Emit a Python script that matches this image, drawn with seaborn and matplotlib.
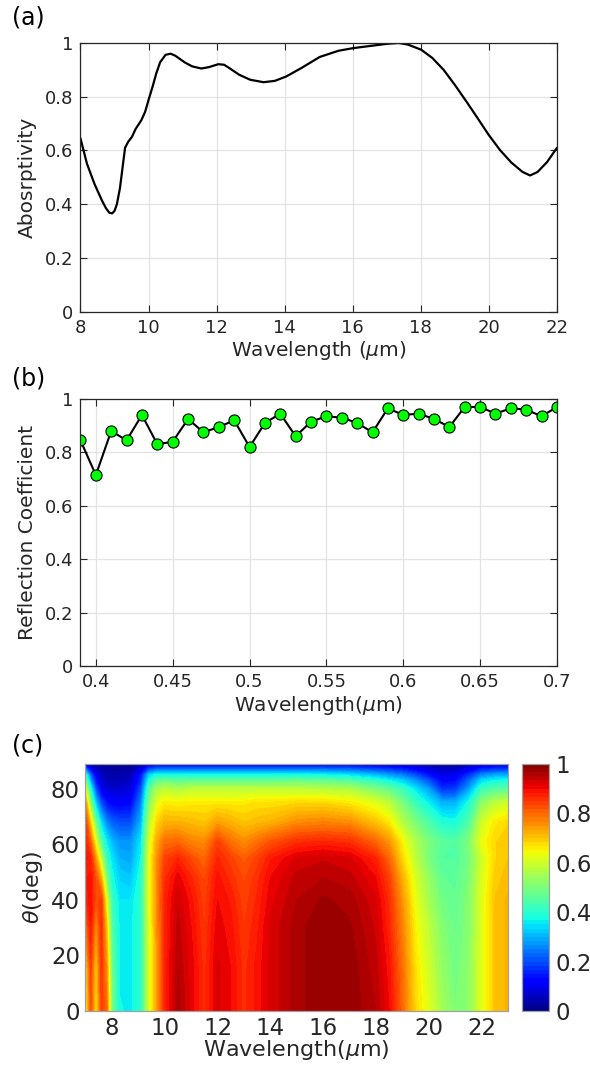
import numpy as np
import seaborn as sns
import matplotlib
matplotlib.use("Agg")
import matplotlib.pyplot as plt
from matplotlib.ticker import FuncFormatter

# ---------------- dados ----------------
# (a) absortividade
wl_abs = [8.0, 8.19, 8.41, 8.63, 8.75, 8.85, 8.93, 9.0, 9.07, 9.16, 9.24, 9.31, 9.40,
          9.51, 9.62, 9.79, 9.90, 10.0, 10.12, 10.23, 10.34, 10.5, 10.65, 10.78, 11.06,
          11.28, 11.55, 11.77, 12.05, 12.22, 12.38, 12.66, 12.99, 13.38, 13.71, 14.04,
          14.48, 15.03, 15.58, 16.02, 16.58, 17.02, 17.35, 17.62, 18.01, 18.34, 18.67,
          19.0, 19.34, 19.67, 20.0, 20.33, 20.66, 20.99, 21.21, 21.43, 21.71, 22.0]
absorb = [0.645, 0.551, 0.476, 0.414, 0.385, 0.368, 0.366, 0.375, 0.40, 0.46, 0.54,
          0.61, 0.632, 0.65, 0.68, 0.713, 0.744, 0.788, 0.838, 0.888, 0.928, 0.956,
          0.96, 0.953, 0.928, 0.913, 0.905, 0.91, 0.921, 0.919, 0.906, 0.882, 0.863,
          0.854, 0.859, 0.875, 0.906, 0.948, 0.971, 0.981, 0.99, 0.997, 1.0, 0.994,
          0.975, 0.944, 0.9, 0.844, 0.782, 0.72, 0.657, 0.601, 0.555, 0.52, 0.507,
          0.52, 0.557, 0.61]

# (b) coeficiente de reflexao
wl_refl = [0.39, 0.40, 0.41, 0.42, 0.43, 0.44, 0.45, 0.46, 0.47, 0.48, 0.49, 0.50,
           0.51, 0.52, 0.53, 0.54, 0.55, 0.56, 0.57, 0.58, 0.59, 0.60, 0.61, 0.62,
           0.63, 0.64, 0.65, 0.66, 0.67, 0.68, 0.69, 0.70]
refl = [0.845, 0.715, 0.88, 0.845, 0.94, 0.83, 0.84, 0.925, 0.875, 0.895, 0.92, 0.82,
        0.91, 0.945, 0.86, 0.915, 0.935, 0.93, 0.91, 0.875, 0.965, 0.94, 0.945, 0.925,
        0.895, 0.97, 0.97, 0.945, 0.965, 0.96, 0.935, 0.97]

# (c) mapa angulo x comprimento de onda
wl_map = [7.0, 7.2, 7.4, 7.6, 7.8, 8.0, 8.3, 8.7, 9.1, 9.4, 9.7, 10.0, 10.5, 11.0, 11.5,
          12.0, 12.5, 13.0, 13.5, 14.0, 15.0, 16.0, 17.0, 18.0, 18.5, 19.0, 19.5, 20.0,
          20.5, 21.0, 21.5, 22.0, 22.5, 23.0]
theta_map = [0, 15, 30, 40, 48, 55, 61, 68, 75, 80, 83, 85, 87, 89]
absorb_map = [
    [0.62, 0.82, 0.66, 0.84, 0.80, 0.50, 0.37, 0.36, 0.40, 0.60, 0.74, 0.87, 0.96, 0.91, 0.86, 0.92, 0.90, 0.86, 0.89, 0.92, 0.96, 0.98, 0.98, 0.95, 0.90, 0.80, 0.68, 0.62, 0.55, 0.50, 0.52, 0.62, 0.70, 0.72],
    [0.66, 0.84, 0.68, 0.85, 0.76, 0.48, 0.36, 0.36, 0.40, 0.60, 0.74, 0.87, 0.95, 0.91, 0.86, 0.92, 0.90, 0.86, 0.89, 0.92, 0.96, 0.98, 0.98, 0.94, 0.89, 0.79, 0.67, 0.60, 0.53, 0.49, 0.52, 0.62, 0.70, 0.72],
    [0.78, 0.88, 0.75, 0.86, 0.70, 0.45, 0.36, 0.36, 0.40, 0.61, 0.75, 0.87, 0.94, 0.90, 0.85, 0.91, 0.89, 0.85, 0.88, 0.92, 0.96, 0.98, 0.97, 0.93, 0.87, 0.77, 0.65, 0.58, 0.51, 0.48, 0.51, 0.62, 0.70, 0.72],
    [0.86, 0.90, 0.82, 0.85, 0.62, 0.42, 0.35, 0.35, 0.40, 0.62, 0.76, 0.87, 0.93, 0.89, 0.84, 0.90, 0.88, 0.84, 0.87, 0.91, 0.95, 0.97, 0.96, 0.92, 0.86, 0.75, 0.63, 0.55, 0.49, 0.47, 0.51, 0.62, 0.70, 0.72],
    [0.88, 0.89, 0.82, 0.72, 0.50, 0.38, 0.33, 0.32, 0.39, 0.62, 0.76, 0.86, 0.91, 0.87, 0.83, 0.89, 0.86, 0.83, 0.86, 0.90, 0.94, 0.95, 0.94, 0.90, 0.84, 0.72, 0.61, 0.53, 0.47, 0.46, 0.50, 0.61, 0.69, 0.71],
    [0.89, 0.87, 0.74, 0.58, 0.42, 0.35, 0.30, 0.29, 0.37, 0.62, 0.75, 0.84, 0.87, 0.83, 0.80, 0.87, 0.84, 0.81, 0.84, 0.88, 0.92, 0.93, 0.92, 0.87, 0.80, 0.68, 0.58, 0.50, 0.45, 0.45, 0.49, 0.60, 0.68, 0.70],
    [0.88, 0.80, 0.62, 0.45, 0.36, 0.31, 0.27, 0.27, 0.35, 0.60, 0.73, 0.79, 0.80, 0.77, 0.76, 0.84, 0.79, 0.76, 0.79, 0.82, 0.86, 0.87, 0.86, 0.80, 0.75, 0.65, 0.56, 0.50, 0.46, 0.45, 0.50, 0.63, 0.68, 0.70],
    [0.86, 0.68, 0.48, 0.34, 0.26, 0.22, 0.20, 0.20, 0.30, 0.56, 0.68, 0.72, 0.72, 0.71, 0.70, 0.74, 0.72, 0.70, 0.71, 0.72, 0.76, 0.77, 0.76, 0.70, 0.66, 0.57, 0.50, 0.44, 0.39, 0.38, 0.44, 0.60, 0.66, 0.68],
    [0.76, 0.50, 0.32, 0.20, 0.14, 0.12, 0.11, 0.12, 0.25, 0.50, 0.62, 0.66, 0.65, 0.66, 0.66, 0.66, 0.66, 0.66, 0.67, 0.67, 0.68, 0.68, 0.66, 0.62, 0.58, 0.50, 0.42, 0.36, 0.30, 0.30, 0.38, 0.52, 0.58, 0.60],
    [0.62, 0.38, 0.20, 0.10, 0.08, 0.07, 0.07, 0.08, 0.20, 0.45, 0.55, 0.58, 0.56, 0.58, 0.58, 0.58, 0.58, 0.58, 0.58, 0.58, 0.58, 0.57, 0.56, 0.50, 0.47, 0.42, 0.35, 0.28, 0.17, 0.18, 0.28, 0.42, 0.45, 0.46],
    [0.50, 0.28, 0.14, 0.07, 0.05, 0.05, 0.05, 0.06, 0.16, 0.38, 0.46, 0.48, 0.46, 0.47, 0.47, 0.47, 0.47, 0.47, 0.47, 0.47, 0.48, 0.47, 0.45, 0.40, 0.37, 0.33, 0.27, 0.20, 0.12, 0.13, 0.22, 0.34, 0.37, 0.38],
    [0.42, 0.22, 0.10, 0.06, 0.05, 0.04, 0.04, 0.05, 0.14, 0.33, 0.38, 0.38, 0.38, 0.38, 0.38, 0.38, 0.38, 0.38, 0.38, 0.38, 0.38, 0.37, 0.35, 0.31, 0.28, 0.25, 0.20, 0.14, 0.09, 0.10, 0.17, 0.26, 0.29, 0.30],
    [0.25, 0.12, 0.06, 0.04, 0.03, 0.03, 0.03, 0.03, 0.08, 0.20, 0.24, 0.24, 0.24, 0.24, 0.24, 0.24, 0.24, 0.24, 0.24, 0.24, 0.24, 0.24, 0.23, 0.20, 0.18, 0.16, 0.12, 0.08, 0.06, 0.06, 0.10, 0.16, 0.18, 0.19],
    [0.08, 0.05, 0.03, 0.02, 0.02, 0.02, 0.02, 0.02, 0.04, 0.08, 0.09, 0.09, 0.09, 0.09, 0.09, 0.09, 0.09, 0.09, 0.09, 0.09, 0.09, 0.09, 0.09, 0.08, 0.07, 0.06, 0.05, 0.04, 0.03, 0.03, 0.04, 0.07, 0.08, 0.09],
]

ticks_y = [0, 0.2, 0.4, 0.6, 0.8, 1]
ticks_a = [8, 10, 12, 14, 16, 18, 20, 22]
ticks_b = [0.4, 0.45, 0.5, 0.55, 0.6, 0.65, 0.7]
ticks_cx = [8, 10, 12, 14, 16, 18, 20, 22]
ticks_cy = [0, 20, 40, 60, 80]


def formatador(x, pos):
    return f'{x:g}'


sns.set_theme(style="ticks")
plt.rcParams['font.family'] = ['DejaVu Sans']
plt.rcParams['mathtext.fontset'] = 'dejavusans'

texto = '#262626'
grade = '#e3e3e3'
formatter = FuncFormatter(formatador)

fig = plt.figure(figsize=(5.9, 10.69), dpi=100)


def estilo(ax, fs):
    for s in ax.spines.values():
        s.set_color(texto)
        s.set_linewidth(0.9)
    ax.tick_params(direction='in', top=True, right=True, length=5, width=0.8,
                   colors=texto, labelsize=fs, pad=5)
    ax.grid(True, color=grade, linewidth=0.9)
    ax.set_axisbelow(True)
    ax.yaxis.set_major_formatter(formatter)
    ax.xaxis.set_major_formatter(formatter)


# ========================== (a) ==========================
ax1 = fig.add_axes([0.1364, 0.7084, 0.8076, 0.2514])
sns.lineplot(x=wl_abs, y=absorb, ax=ax1, color='black', linewidth=1.6)
ax1.set_xlim(8, 22)
ax1.set_ylim(0, 1)
ax1.set_xticks(ticks_a)
ax1.set_yticks(ticks_y)
estilo(ax1, 13)
ax1.set_xlabel(r'Wavelength ($\mu$m)', fontsize=14.5, color=texto, labelpad=2)
ax1.set_ylabel('Abosrptivity', fontsize=14.5, color=texto, labelpad=6)

# ========================== (b) ==========================
ax2 = fig.add_axes([0.1364, 0.377, 0.8076, 0.2498])
sns.lineplot(x=wl_refl, y=refl, ax=ax2, color='black', linewidth=1.5,
             marker='o', markersize=8, markerfacecolor='#00ff00',
             markeredgecolor='black', markeredgewidth=0.8)
ax2.set_xlim(0.39, 0.70)
ax2.set_ylim(0, 1)
ax2.set_xticks(ticks_b)
ax2.set_yticks(ticks_y)
estilo(ax2, 13)
ax2.set_xlabel(r'Wavelength($\mu$m)', fontsize=14.5, color=texto, labelpad=2)
ax2.set_ylabel('Reflection Coefficient', fontsize=14.5, color=texto, labelpad=6)

# ========================== (c) ==========================
ax3 = fig.add_axes([0.1449, 0.0543, 0.7161, 0.2311])
cax = fig.add_axes([0.884, 0.0543, 0.0458, 0.2311])
cs = ax3.contourf(wl_map, theta_map, np.array(absorb_map),
                  levels=np.linspace(0, 1, 61), cmap='jet', vmin=0, vmax=1)
ax3.set_xlim(7, 23)
ax3.set_ylim(0, 89)
ax3.set_xticks(ticks_cx)
ax3.set_yticks(ticks_cy)
for s in ax3.spines.values():
    s.set_color('#a0a0a0')
    s.set_linewidth(0.9)
ax3.tick_params(length=0, colors=texto, labelsize=16.5, pad=4)
ax3.set_xlabel(r'Wavelength($\mu$m)', fontsize=16, color=texto, labelpad=-1)
ax3.set_ylabel(r'$\theta$(deg)', fontsize=16, color=texto, labelpad=4)

cb = fig.colorbar(cs, cax=cax, ticks=ticks_y)
cb.ax.yaxis.set_major_formatter(formatter)
cb.ax.tick_params(length=0, colors=texto, labelsize=16.5, pad=5)
cb.outline.set_edgecolor('#a0a0a0')
cb.outline.set_linewidth(0.9)

# rotulos dos paineis
fig.text(0.02, 0.995, '(a)', fontsize=17, color='black', va='top')
fig.text(0.02, 0.657, '(b)', fontsize=17, color='black', va='top')
fig.text(0.02, 0.314, '(c)', fontsize=17, color='black', va='top')

fig.savefig('out.png', dpi=100)
